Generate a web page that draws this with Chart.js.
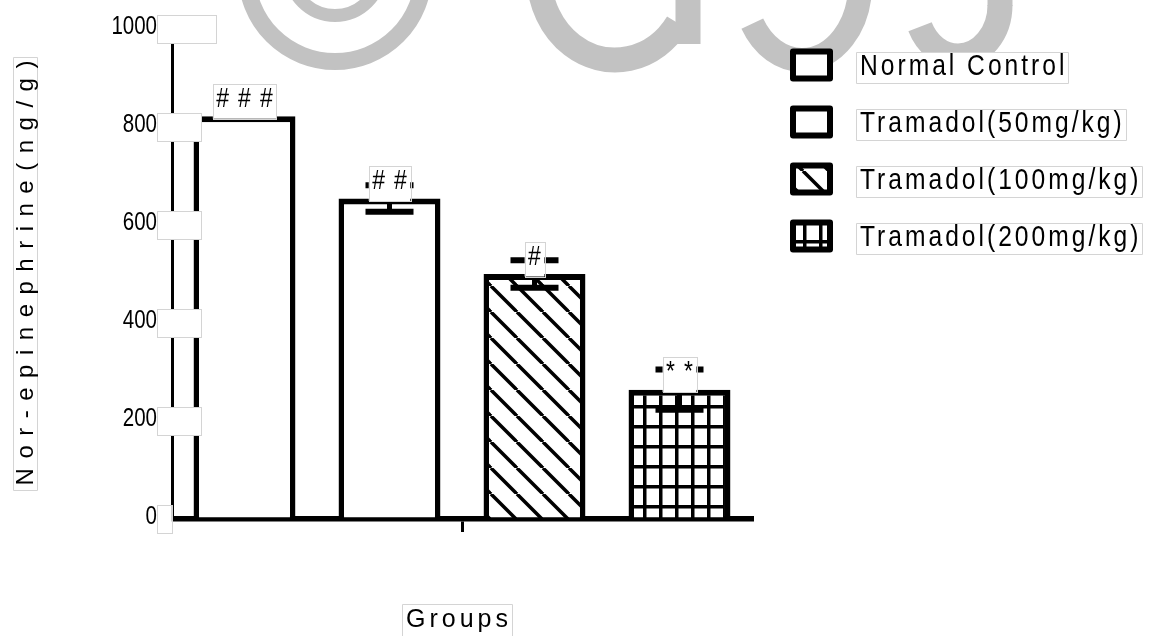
<!DOCTYPE html>
<html>
<head>
<meta charset="utf-8">
<script src="https://cdn.jsdelivr.net/npm/chart.js@4.4.1/dist/chart.umd.min.js"></script>
<style>
  html, body { margin: 0; padding: 0; background: #ffffff; }
  #wrap { width: 1152px; height: 636px; }
  canvas { display: block; }
</style>
</head>
<body>
<div id="wrap"><canvas id="chart" width="1152" height="636"></canvas></div>
<script>
// ---- data ----
const groupLabels = [''];
const seriesNames = ['Normal Control', 'Tramadol(50mg/kg)', 'Tramadol(100mg/kg)', 'Tramadol(200mg/kg)'];
const meanValues = [822, 654, 500, 264];
const semValues = [null, 27, 28, 41];
const markTexts = ['###', '##', '#', '**'];
const yTickValues = [0, 200, 400, 600, 800, 1000];
const yTitle = 'Nor-epinephrine(ng/g)';
const xTitle = 'Groups';

// ---- styling ----
const SANS = "'Liberation Sans', Arial, sans-serif";
const SQUEEZE = 0.82;          // horizontal squeeze for the condensed lettering
const BOX_EDGE = '#d4d4d4';
const WATERMARK = '#c2c2c2';

function makeTile(w, h, paint) {
  const c = document.createElement('canvas');
  c.width = w; c.height = h;
  const g = c.getContext('2d');
  g.fillStyle = '#ffffff';
  g.fillRect(0, 0, w, h);
  g.fillStyle = '#000000';
  g.strokeStyle = '#000000';
  paint(g, w, h);
  return c;
}

const ctx0 = document.getElementById('chart').getContext('2d');

// diagonal "\" hatch
const hatch = ctx0.createPattern(makeTile(26, 26, (g, w, h) => {
  g.lineWidth = 3.5;
  for (let k = -1; k <= 1; k++) {
    g.beginPath();
    g.moveTo(k * w, 0);
    g.lineTo(k * w + w, h);
    g.stroke();
  }
}), 'repeat');
hatch.setTransform(new DOMMatrix([1, 0, 0, 1, -3, 0]));

// square grid
const grid = ctx0.createPattern(makeTile(16, 20, (g, w, h) => {
  g.fillRect(3, 0, 3.5, h);
  g.fillRect(0, 5, w, 3.5);
}), 'repeat');

const fills = ['#ffffff', '#ffffff', hatch, grid];

function textBox(ctx, x, y, w, h) {
  ctx.save();
  ctx.fillStyle = '#ffffff';
  ctx.fillRect(x, y, w, h);
  ctx.strokeStyle = BOX_EDGE;
  ctx.lineWidth = 1;
  ctx.strokeRect(Math.round(x) + 0.5, Math.round(y) + 0.5, Math.round(w), Math.round(h));
  ctx.restore();
}

// condensed text helpers
function narrowWidth(ctx, text, size, spacing) {
  ctx.save();
  ctx.font = size + 'px ' + SANS;
  ctx.letterSpacing = (spacing / SQUEEZE) + 'px';
  const w = ctx.measureText(text).width * SQUEEZE - spacing;
  ctx.restore();
  return w;
}
function narrowText(ctx, text, x, y, size, spacing) {
  ctx.save();
  ctx.font = size + 'px ' + SANS;
  ctx.letterSpacing = (spacing / SQUEEZE) + 'px';
  ctx.fillStyle = '#000000';
  ctx.textAlign = 'left';
  ctx.textBaseline = 'middle';
  ctx.translate(x, y);
  ctx.scale(SQUEEZE, 1);
  ctx.fillText(text, 0, 0);
  ctx.restore();
}

// faint copyright watermark behind the plot
const watermarkPlugin = {
  id: 'watermark',
  beforeDraw(chart) {
    const ctx = chart.ctx;
    ctx.save();
    ctx.fillStyle = '#ffffff';
    ctx.fillRect(0, 0, chart.width, chart.height);
    ctx.strokeStyle = WATERMARK;
    ctx.lineCap = 'butt';
    ctx.lineWidth = 17;
    ctx.beginPath(); ctx.arc(335, -27, 88.5, 0, Math.PI * 2); ctx.stroke();
    ctx.lineWidth = 13;
    ctx.beginPath(); ctx.arc(335, -30, 45.5, 0, Math.PI); ctx.stroke();
    ctx.lineWidth = 25;
    ctx.beginPath(); ctx.ellipse(615, -25, 76, 85, 0, 0.6, Math.PI); ctx.stroke();
    ctx.beginPath(); ctx.moveTo(688, -5); ctx.lineTo(688, 44); ctx.stroke();
    ctx.lineWidth = 24;
    ctx.beginPath(); ctx.ellipse(802, -15, 58, 75, 0, 0, 2.6); ctx.stroke();
    ctx.lineWidth = 25;
    ctx.beginPath(); ctx.ellipse(958, 5, 42, 51, 0, 0, 2.7); ctx.stroke();
    ctx.beginPath(); ctx.moveTo(1000, -5); ctx.lineTo(1000, 6); ctx.stroke();
    ctx.restore();
  }
};

// SEM whiskers, significance marks, y tick labels with their boxes
const overlayPlugin = {
  id: 'overlay',
  afterDatasetsDraw(chart) {
    const ctx = chart.ctx;
    const y = chart.scales.y;
    ctx.save();
    ctx.strokeStyle = '#000000';
    ctx.lineCap = 'butt';
    seriesNames.forEach((_, i) => {
      const e = semValues[i];
      if (e == null) return;
      const bar = chart.getDatasetMeta(i).data[0];
      const v = meanValues[i];
      const yHi = y.getPixelForValue(v + e);
      const yLo = y.getPixelForValue(v - e);
      ctx.lineWidth = 5;
      ctx.beginPath(); ctx.moveTo(bar.x, yHi); ctx.lineTo(bar.x, yLo); ctx.stroke();
      ctx.lineWidth = 6;
      [yHi, yLo].forEach(p => {
        ctx.beginPath(); ctx.moveTo(bar.x - 24, p); ctx.lineTo(bar.x + 24, p); ctx.stroke();
      });
    });

    // significance marks
    seriesNames.forEach((_, i) => {
      const bar = chart.getDatasetMeta(i).data[0];
      const cy = y.getPixelForValue(meanValues[i]) - 15;
      const tw = narrowWidth(ctx, markTexts[i], 28, 9);
      const bw = tw + 7;
      textBox(ctx, bar.x - bw / 2, cy - 17.5, bw, 35);
      narrowText(ctx, markTexts[i], bar.x - tw / 2, cy - 2, 28, 9);
    });

    // y tick labels, each followed by a white label box
    const right = chart.chartArea.left - 15;
    y.ticks.forEach(t => {
      const py = y.getPixelForValue(t.value);
      const label = String(t.value);
      const w = narrowWidth(ctx, label, 25, 0);
      textBox(ctx, right, py - 14, w * 1.3, 28);
      narrowText(ctx, label, right - w, py - 2, 25, 0);
    });
    ctx.restore();
  }
};

// legend and axis titles
const legendPlugin = {
  id: 'sideLegend',
  afterDraw(chart) {
    const ctx = chart.ctx;
    ctx.save();
    const rowTop = 65, rowStep = 57;
    chart.data.datasets.forEach((ds, i) => {
      const cy = rowTop + i * rowStep;
      // swatch: shift the fill so a grid line falls inside the small box
      ctx.save();
      ctx.translate(0, 15);
      ctx.fillStyle = ds.backgroundColor;
      ctx.fillRect(793, cy - 13.5 - 15, 37, 27);
      ctx.restore();
      ctx.strokeStyle = '#000000';
      ctx.lineWidth = 6;
      ctx.lineJoin = 'round';
      ctx.strokeRect(793, cy - 13.5, 37, 27);
      const tw = narrowWidth(ctx, ds.label, 30, 3);
      textBox(ctx, 856, cy - 13, tw + 8, 31);
      narrowText(ctx, ds.label, 860, cy + 2, 30, 3);
    });

    // y title, rotated
    ctx.font = '24px ' + SANS;
    ctx.letterSpacing = '9.5px';
    const yl = ctx.measureText(yTitle).width - 9.5;
    const ycx = 25, ycy = 273;
    textBox(ctx, 13, ycy - yl / 2 - 4, 24, yl + 8);
    ctx.translate(ycx, ycy);
    ctx.rotate(-Math.PI / 2);
    ctx.fillStyle = '#000000';
    ctx.textBaseline = 'middle';
    ctx.textAlign = 'left';
    ctx.fillText(yTitle, -yl / 2, 1);
    ctx.setTransform(1, 0, 0, 1, 0, 0);

    // x title
    ctx.font = '25px ' + SANS;
    ctx.letterSpacing = '4px';
    const xl = ctx.measureText(xTitle).width - 4;
    const xcx = 457, xcy = 620;
    textBox(ctx, xcx - xl / 2 - 4, 604, xl + 8, 32);
    ctx.fillStyle = '#000000';
    ctx.fillText(xTitle, xcx - xl / 2, xcy);
    ctx.letterSpacing = '0px';
    ctx.restore();
  }
};

new Chart(ctx0, {
  type: 'bar',
  data: {
    labels: groupLabels,
    datasets: seriesNames.map((name, i) => ({
      label: name,
      data: [meanValues[i]],
      backgroundColor: fills[i],
      borderColor: '#000000',
      borderWidth: { top: 6, left: 5.5, right: 5.5, bottom: 0 },
      borderSkipped: 'start'
    }))
  },
  options: {
    responsive: false,
    animation: false,
    events: [],
    layout: { padding: { top: 29, right: 400, bottom: 0, left: 0 } },
    datasets: { bar: { categoryPercentage: 1.0, barPercentage: 0.703 } },
    plugins: {
      legend: { display: false },
      tooltip: { enabled: false },
      title: { display: false }
    },
    scales: {
      x: {
        grid: { offset: false, drawOnChartArea: false, color: '#000000', lineWidth: 3, tickLength: 13 },
        border: { color: '#000000', width: 5.5 },
        ticks: { color: '#000000', font: { family: SANS, size: 20 } },
        afterFit: s => { s.height = 117; }
      },
      y: {
        min: 0,
        max: 1000,
        afterBuildTicks: s => { s.ticks = yTickValues.map(v => ({ value: v })); },
        grid: { drawOnChartArea: false, color: '#000000', lineWidth: 3, tickLength: 8 },
        border: { color: '#000000', width: 3 },
        ticks: { display: false },
        afterFit: s => { s.width = 172; }
      }
    }
  },
  plugins: [watermarkPlugin, overlayPlugin, legendPlugin]
});
</script>
</body>
</html>
